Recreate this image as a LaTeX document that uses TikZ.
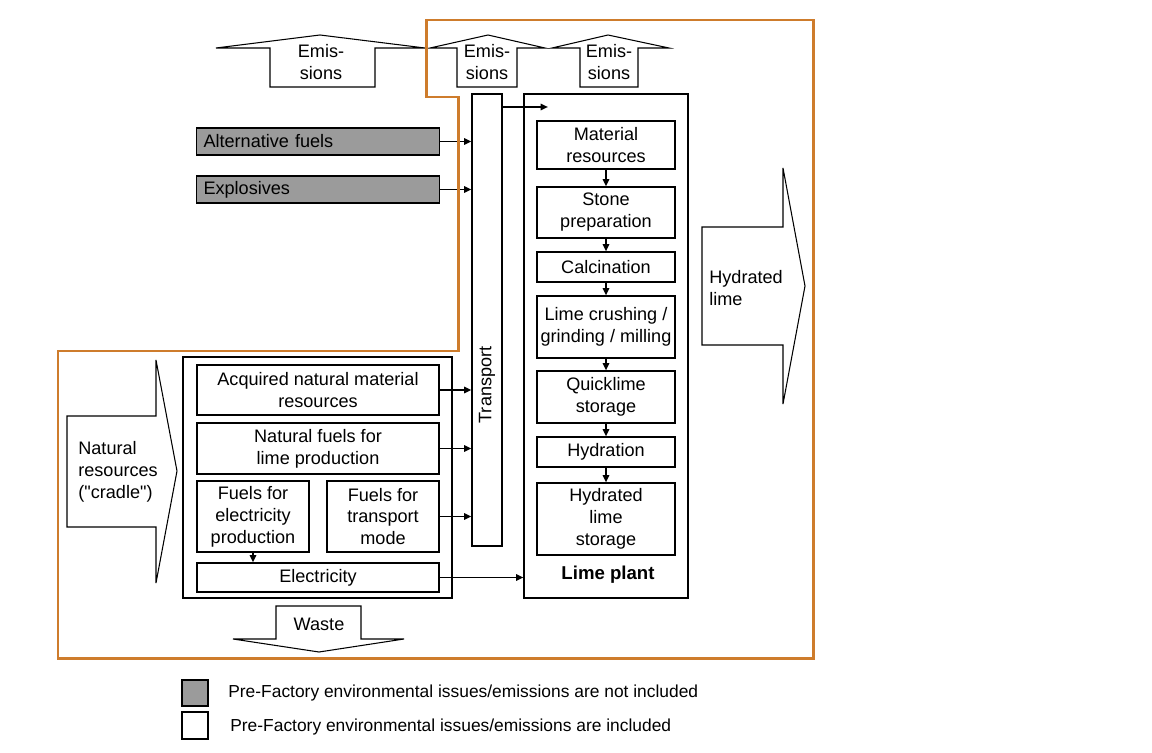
\documentclass[tikz,border=0pt]{standalone}
\usepackage{fontspec}
\setmainfont{Liberation Sans}
\newfontfamily\qfont{Liberation Sans}
\usetikzlibrary{arrows.meta}
\newlength\pxu
\setlength\pxu{0.02cm}
\definecolor{orng}{RGB}{206,124,44}
\definecolor{grayfill}{RGB}{155,155,155}
\begin{document}
\begin{tikzpicture}[x=0.02cm,y=-0.02cm,
  txt/.style={font=\fontsize{10.3}{12.5}\selectfont},
  box/.style={draw, fill=white, line width=0.6pt, inner sep=0pt, align=center, txt},
  graybox/.style={draw, fill=grayfill, line width=0.6pt, inner ysep=0pt, inner xsep=7\pxu, align=left, anchor=west, txt},
  blockarrow/.style={draw, fill=white, line width=0.6pt, line join=miter},
  lbl/.style={txt, align=center, inner sep=0pt},
  legtxt/.style={font=\fontsize{9.9}{12}\selectfont, anchor=west, inner sep=0pt},
  arr/.style={-{Triangle[length=4.2pt,width=3.6pt]}, line width=1.1pt},
  boundary/.style={draw=orng, line width=1.7pt, line join=miter}
]
\useasboundingbox[fill=white] (0,0) rectangle (1152,753);

% Emission arrows
\draw[blockarrow] (270,87) -- (270,48) -- (216,48) -- (320,35) -- (425,48) -- (375,48) -- (375,87) -- cycle;
\node[lbl] (em1) at (321,62) {Emis-\\sions};
\draw[blockarrow] (457,87) -- (457,48) -- (430,48) -- (488,35) -- (545,48) -- (517,48) -- (517,87) -- cycle;
\node[lbl] (em2) at (487,62) {Emis-\\sions};
\draw[blockarrow] (580,87) -- (580,48) -- (552,48) -- (608,35) -- (669,48) -- (638,48) -- (638,87) -- cycle;
\node[lbl] (em3) at (609,62) {Emis-\\sions};

% Hydrated lime arrow
\draw[blockarrow] (702,227) -- (783,227) -- (783,168) -- (805,286) -- (783,404) -- (783,345) -- (702,345) -- cycle;
\node[lbl, anchor=west, align=left] (hl) at (709,288) {Hydrated\\lime};

% Natural resources arrow
\draw[blockarrow] (67,416) -- (156,416) -- (156,360) -- (177,471) -- (156,583) -- (156,527) -- (67,527) -- cycle;
\node[lbl, anchor=west, align=left] (nr) at (78,472) {Natural\\resources\\({\qfont"}cradle{\qfont"})};

% Waste arrow
\draw[blockarrow] (276,606) -- (361,606) -- (361,639) -- (404,639) -- (319,652) -- (233,639) -- (276,639) -- cycle;
\node[lbl] (waste) at (319,624) {Waste};

% Gray input boxes
\node[graybox, text width=229\pxu, minimum height=27\pxu] (af) at (196,141.5) {Alternative fuels};
\node[graybox, text width=229\pxu, minimum height=27\pxu] (ex) at (196,189.5) {Explosives};

% Transport
\node[box, minimum width=30\pxu, minimum height=452\pxu] (tr) at (487,320) {};
\node[lbl, rotate=90] (trl) at (487,385) {Transport};

% Lime plant
\node[box, minimum width=164\pxu, minimum height=504\pxu] (lp) at (606,346) {};
\node[lbl, font=\fontsize{10.6}{12.5}\selectfont\bfseries] (lpl) at (608,575) {Lime plant};
\node[box, minimum width=138\pxu, minimum height=48\pxu] (mr) at (606,145) {Material\\resources};
\node[box, minimum width=138\pxu, minimum height=51\pxu] (sp) at (606,212.5) {Stone\\preparation};
\node[box, minimum width=138\pxu, minimum height=30\pxu] (ca) at (606,267) {Calcination};
\node[box, minimum width=138\pxu, minimum height=62\pxu] (lc) at (606,327) {Lime crushing /\\grinding / milling};
\node[box, minimum width=138\pxu, minimum height=52\pxu] (qs) at (606,397) {Quicklime\\storage};
\node[box, minimum width=138\pxu, minimum height=30\pxu] (hy) at (606,452) {Hydration};
\node[box, minimum width=138\pxu, minimum height=72\pxu] (hs) at (606,519) {Hydrated\\lime\\storage};

% Pre-factory box
\node[draw, line width=1.2pt, minimum width=269\pxu, minimum height=241\pxu, inner sep=0pt] (pre) at (317.5,477.5) {};
\node[box, minimum width=242\pxu, minimum height=50\pxu] (anr) at (318,390) {Acquired natural material\\resources};
\node[box, minimum width=242\pxu, minimum height=51\pxu] (nf) at (318,448.5) {Natural fuels for\\lime production};
\node[box, minimum width=112\pxu, minimum height=71\pxu] (fe) at (253,516.5) {Fuels for\\electricity\\production};
\node[box, minimum width=112\pxu, minimum height=71\pxu] (ft) at (383,516.5) {Fuels for\\transport\\mode};
\node[box, minimum width=242\pxu, minimum height=29\pxu] (el) at (318,577.5) {Electricity};

% Connectors
\draw[arr] (af.east) -- (af.east -| tr.west);
\draw[arr] (ex.east) -- (ex.east -| tr.west);
\draw[arr] (anr.east) -- (anr.east -| tr.west);
\draw[arr] (nf.east) -- (nf.east -| tr.west);
\draw[arr] (ft.east) -- (ft.east -| tr.west);
\draw[arr] (el.east) -- (el.east -| lp.west);
\draw[arr] (fe.south) -- (fe.south |- el.north);
\coordinate (lpin) at (548,107);
\draw[arr] (lpin -| tr.east) -- (lpin);
\draw[arr] (mr.south) -- (sp.north);
\draw[arr] (sp.south) -- (ca.north);
\draw[arr] (ca.south) -- (lc.north);
\draw[arr] (lc.south) -- (qs.north);
\draw[arr] (qs.south) -- (hy.north);
\draw[arr] (hy.south) -- (hs.north);

% System boundary
\draw[boundary] (426,20) -- (813,20) -- (813,658) -- (58,658) -- (58,351) -- (458,351) -- (458,97) -- (426,97) -- cycle;

% Legend
\node[draw, fill=grayfill, line width=0.6pt, minimum width=26\pxu, minimum height=26\pxu, inner sep=0pt] (lg1) at (195,693) {};
\node[draw, fill=white, line width=0.6pt, minimum width=26\pxu, minimum height=27\pxu, inner sep=0pt] (lg2) at (195,725.5) {};
\node[legtxt] (lt1) at (228,693) {Pre-Factory environmental issues/emissions are not included};
\node[legtxt] (lt2) at (230,727) {Pre-Factory environmental issues/emissions are included};
\end{tikzpicture}
\end{document}
